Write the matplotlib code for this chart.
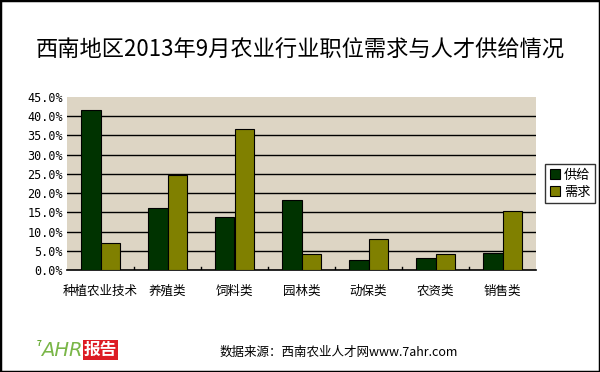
import matplotlib
matplotlib.use("Agg")
import matplotlib.pyplot as plt
import numpy as np
from matplotlib.patches import Rectangle
import matplotlib.transforms as mtransforms

plt.rcParams['font.family'] = ['Noto Sans CJK SC', 'DejaVu Sans']

title = "西南地区2013年9月农业行业职位需求与人才供给情况"
categories = ["种植农业技术", "养殖类", "饲料类", "园林类", "动保类", "农资类", "销售类"]
supply = [41.6, 16.0, 13.9, 18.2, 2.6, 3.1, 4.4]
demand = [6.9, 24.7, 36.6, 4.2, 8.0, 4.2, 15.3]
series_names = ["供给", "需求"]
yticks = [0, 5, 10, 15, 20, 25, 30, 35, 40, 45]
source = "数据来源：西南农业人才网www.7ahr.com"

fig = plt.figure(figsize=(6, 3.72), dpi=100)
fig.patch.set_facecolor('white')
fig.patches.append(Rectangle((0, 0), 1, 1, transform=fig.transFigure,
                             fill=False, edgecolor='black', linewidth=2.5))

ax = fig.add_axes([67/600, 1-270/372, 469/600, 173/372])
ax.set_facecolor('#ddd5c4')

x = np.arange(len(categories))
w = 0.285
ax.bar(x - w/2, supply, w, color='#003300', edgecolor='black', linewidth=0.8,
       label=series_names[0], zorder=3)
ax.bar(x + w/2, demand, w, color='#808000', edgecolor='black', linewidth=0.8,
       label=series_names[1], zorder=3)

ax.set_xlim(-0.5, len(categories) - 0.5)
ax.set_ylim(0, 45)
ax.set_yticks(yticks)
ax.set_yticklabels([f"{v:.1f}%" for v in yticks], fontsize=8.5, family='DejaVu Sans Mono')
for v in yticks[1:-1]:
    ax.axhline(v, color='black', linewidth=1, zorder=1)

ax.set_xticks([])
trans = mtransforms.blended_transform_factory(ax.transData, fig.transFigure)
for xi, lab in zip(x, categories):
    ax.text(xi, 1-291/372, lab, transform=trans, ha='center', va='center', fontsize=9)
ax.tick_params(axis='y', length=0, pad=3)
for b in np.arange(0.5, len(categories) - 0.5, 1):
    ax.plot([b, b], [0, 0.9], color='black', linewidth=1, zorder=4)

for s in ['top', 'right', 'left']:
    ax.spines[s].set_visible(False)
ax.spines['bottom'].set_linewidth(1.2)

leg = ax.legend(loc='center left', bbox_to_anchor=(1.005, 0.5), fontsize=9.5,
                frameon=True, fancybox=False, edgecolor='black',
                handlelength=0.8, handleheight=0.8, handletextpad=0.3,
                borderpad=0.35, labelspacing=0.3)
leg.get_frame().set_linewidth(1)

fig.text(0.5, 1-50/372, title, ha='center', va='center', fontsize=16)

fig.text(458/600, 1-352/372, source, ha='right', va='center', fontsize=9)

# logo
fig.text(37/600, 1-343/372, "7", color='#66aa33', fontsize=6, ha='left', va='center',
         fontweight='bold')
fig.text(41/600, 1-350/372, "AHR", color='#7ab648', fontsize=14, ha='left', va='center',
         fontstyle='italic', family='DejaVu Sans')
fig.text(84/600, 1-350/372, "报告", color='white', fontsize=12, ha='left', va='center',
         fontweight='bold',
         bbox=dict(boxstyle='square,pad=0.05', facecolor='#dd1c24', edgecolor='none'))

fig.savefig("out.png", dpi=100)
